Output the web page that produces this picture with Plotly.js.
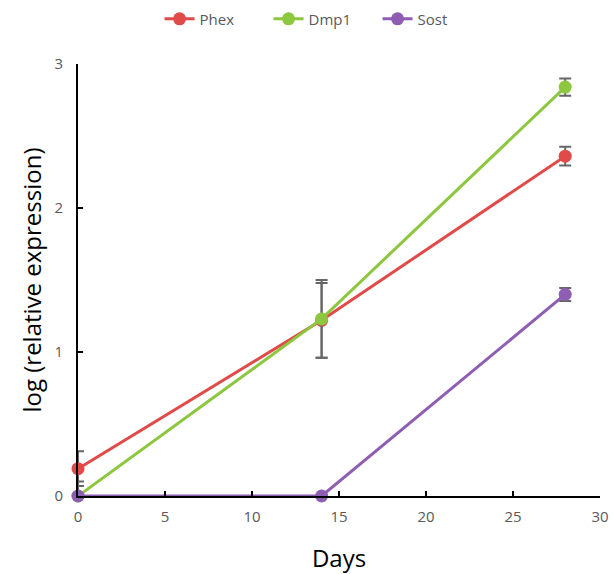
<!DOCTYPE html>
<html>
<head>
<meta charset="utf-8">
<script src="https://cdn.plot.ly/plotly-3.0.1.min.js"></script>
<style>html,body{margin:0;padding:0;background:#fff;}#chart{width:613px;height:574px;}</style>
</head>
<body>
<div id="chart"></div>
<script>
const days = [0, 14, 28];
const phex = [0.19, 1.22, 2.36];
const phexErr = [0.12, 0.26, 0.065];
const dmp1 = [0.0, 1.23, 2.84];
const dmp1Err = [0.1, 0.27, 0.06];
const sost = [0.0, 0.0, 1.40];
const sostErr = [0.0, 0.0, 0.045];
const names = ['Phex', 'Dmp1', 'Sost'];
const colors = ['#e04a48', '#8dc63f', '#8e5eb3'];

const series = [phex, dmp1, sost];
const errs = [phexErr, dmp1Err, sostErr];
const traces = series.map((s, i) => ({
  x: days, y: s, name: names[i], type: 'scatter', mode: 'lines+markers',
  line: {color: colors[i], width: 3},
  marker: {color: colors[i], size: 13},
  cliponaxis: false,
  error_y: {type: 'data', array: errs[i], visible: true, color: '#666666', thickness: 2, width: 6}
}));

const layout = {
  width: 613, height: 574,
  margin: {l: 78, r: 13, t: 64, b: 78, autoexpand: false},
  paper_bgcolor: '#fff', plot_bgcolor: '#fff',
  font: {family: 'Open Sans, Liberation Sans, sans-serif', color: '#595959'},
  showlegend: true,
  legend: {orientation: 'h', xref: 'container', x: 0.527, xanchor: 'center', y: 1.104, yanchor: 'middle',
    font: {size: 15, color: '#595959'}, traceorder: 'normal', entrywidth: 64, entrywidthmode: 'pixels'},
  xaxis: {
    range: [0, 30], tickvals: [0, 5, 10, 15, 20, 25, 30], showgrid: false, zeroline: false,
    showline: true, linecolor: '#000', linewidth: 2, ticks: 'inside', ticklen: 5, tickcolor: '#000', tickwidth: 1.5,
    tickfont: {size: 15, color: '#595959'}, ticklabelstandoff: 6,
    title: {text: 'Days', font: {size: 24, color: '#000'}, standoff: 28}
  },
  yaxis: {
    range: [0, 3], tickvals: [0, 1, 2, 3], showgrid: false, zeroline: false,
    showline: true, linecolor: '#000', linewidth: 2, ticks: 'inside', ticklen: 5, tickcolor: '#000', tickwidth: 1.5,
    tickfont: {size: 15, color: '#595959'}, ticklabelstandoff: 10,
    title: {text: 'log (relative expression)', font: {size: 24, color: '#000'}, standoff: 6}
  }
};
Plotly.newPlot('chart', traces, layout, {displayModeBar: false});
</script>
</body>
</html>
